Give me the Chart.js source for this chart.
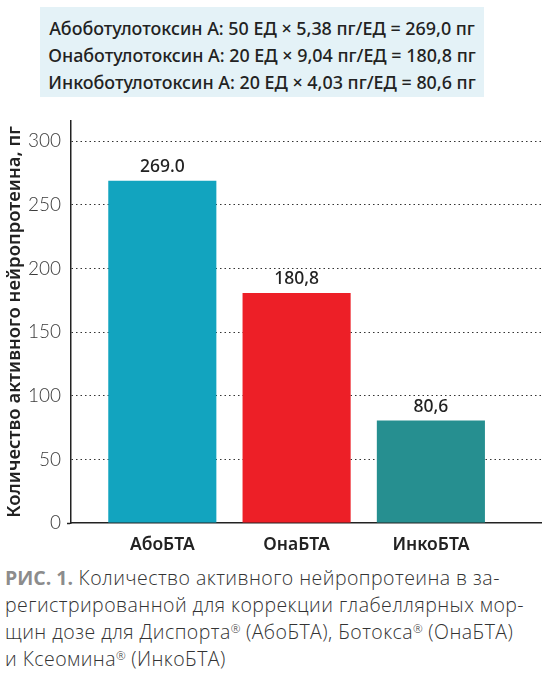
<!DOCTYPE html>
<html lang="ru">
<head>
<meta charset="utf-8">
<script src="https://cdn.jsdelivr.net/npm/chart.js@4.4.1/dist/chart.umd.min.js"></script>
<style>
  html, body { margin: 0; padding: 0; background: #fff; }
  body { width: 543px; height: 673px; position: relative; overflow: hidden; }
  .formula {
    position: absolute; left: 40px; top: 7px; width: 444px; height: 90px;
    box-sizing: border-box; padding-top: 8px;
    background: #e4f2f7; color: #222;
    font-family: "Noto Sans", sans-serif; font-weight: 500; font-size: 17.9px;
    line-height: 27px; text-align: center; white-space: nowrap;
  }
  #chart { position: absolute; left: 0; top: 115px; }
  .caption {
    position: absolute; left: 5px; top: 564px;
    font-family: "Open Sans", sans-serif; font-weight: 300; font-size: 19.5px;
    letter-spacing: 0.45px;
    line-height: 27px; color: #333; white-space: nowrap;
  }
  .caption b { color: #8c8c8c; font-weight: 700; letter-spacing: 0; }
  .caption .r { font-size: 0.6em; vertical-align: 0.55em; line-height: 0; letter-spacing: 0; }
</style>
</head>
<body>
<div class="formula">
  Абоботулотоксин А: 50 ЕД × 5,38 пг/ЕД = 269,0 пг<br>
  Онаботулотоксин А: 20 ЕД × 9,04 пг/ЕД = 180,8 пг<br>
  Инкоботулотоксин А: 20 ЕД × 4,03 пг/ЕД = 80,6 пг
</div>
<canvas id="chart" width="543" height="440"></canvas>
<div class="caption">
  <b>РИС. 1.</b> Количество активного нейропротеина в за-<br>
  регистрированной для коррекции глабеллярных мор-<br>
  щин дозе для Диспорта<span class="r">®</span> (АбоБТА), Ботокса<span class="r">®</span> (ОнаБТА)<br>
  и Ксеомина<span class="r">®</span> (ИнкоБТА)
</div>
<script>
const categories = ['АбоБТА', 'ОнаБТА', 'ИнкоБТА'];
const values = [269.0, 180.8, 80.6];
const valueLabels = ['269.0', '180,8', '80,6'];
const barColors = ['#12a4bf', '#ed1f27', '#268f90'];
const yTicks = [0, 50, 100, 150, 200, 250, 300];
const yTitle = 'Количество активного нейропротеина, пг';

// value labels above the bars
const valueLabelPlugin = {
  id: 'valueLabels',
  afterDatasetsDraw(chart) {
    const ctx = chart.ctx;
    const meta = chart.getDatasetMeta(0);
    ctx.save();
    ctx.font = '500 17.5px "Noto Sans", sans-serif';
    ctx.fillStyle = '#222';
    ctx.textAlign = 'center';
    ctx.textBaseline = 'bottom';
    meta.data.forEach((bar, i) => {
      ctx.fillText(valueLabels[i], bar.x, bar.y - 5);
    });
    ctx.restore();
  }
};

new Chart(document.getElementById('chart'), {
  type: 'bar',
  data: {
    datasets: [{
      data: values.map((v, i) => ({ x: i, y: v })),
      backgroundColor: barColors,
      borderWidth: 0,
      barPercentage: 1,
      categoryPercentage: 0.805
    }]
  },
  options: {
    responsive: false,
    animation: false,
    layout: { padding: { top: 6, right: 2, left: 0, bottom: 0 } },
    plugins: { legend: { display: false }, tooltip: { enabled: false } },
    scales: {
      x: {
        type: 'linear',
        offset: false,
        bounds: 'data',
        min: -0.68,
        max: 2.82,
        grid: { display: false, offset: false },
        border: { display: true, color: '#222', width: 1.5 },
        afterBuildTicks: (scale) => { scale.ticks = categories.map((c, i) => ({ value: i })); },
        afterFit: (scale) => { scale.height = 32; scale.paddingLeft = 0; scale.paddingRight = 0; },
        ticks: {
          autoSkip: false,
          maxRotation: 0,
          padding: 4,
          color: '#222',
          font: { family: '"Noto Sans", sans-serif', size: 17.5, weight: '600' },
          callback: (v) => categories[v]
        }
      },
      y: {
        min: 0,
        max: 316,
        afterBuildTicks: (scale) => { scale.ticks = yTicks.map(v => ({ value: v })); },
        afterFit: (scale) => { scale.width = 71; scale.paddingTop = 0; scale.paddingBottom = 0; },
        grid: {
          color: (c) => c.tick && c.tick.value === 0 ? 'rgba(0,0,0,0)' : '#333',
          tickColor: (c) => c.tick && c.tick.value === 0 ? '#222' : 'rgba(0,0,0,0)',
          tickLength: 4,
          tickWidth: 1.5,
          lineWidth: 1
        },
        border: { display: true, color: '#222', width: 1.5, dash: [1.5, 3] },
        ticks: {
          padding: 6,
          color: '#3b3b3b',
          font: { family: 'Lato, sans-serif', size: 19, weight: '300' }
        },
        title: {
          display: true,
          text: yTitle,
          color: '#222',
          padding: { top: 4, bottom: 0 },
          font: { family: '"Noto Sans", sans-serif', size: 18.5, weight: '600' }
        }
      }
    }
  },
  plugins: [valueLabelPlugin]
});
</script>
</body>
</html>
